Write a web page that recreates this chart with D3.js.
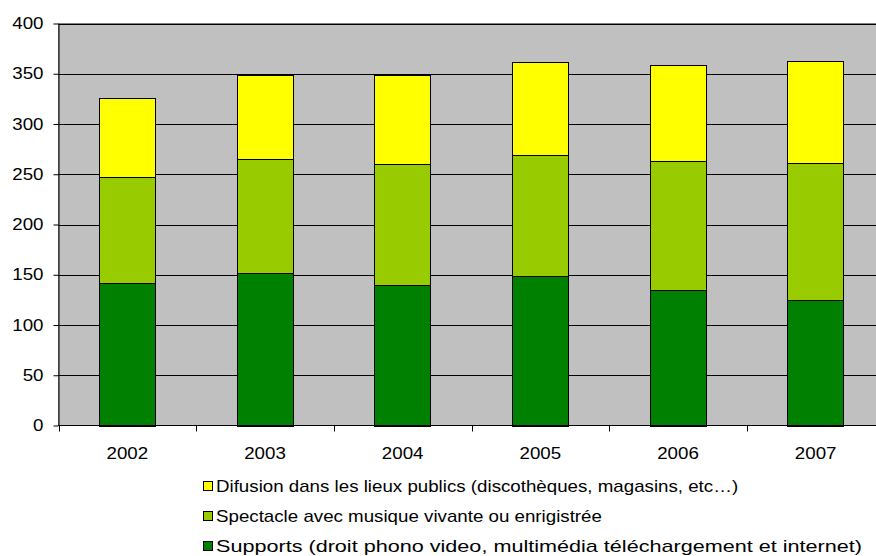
<!DOCTYPE html>
<html>
<head>
<meta charset="utf-8">
<script src="https://cdn.jsdelivr.net/npm/d3@7"></script>
<style>
  html, body { margin: 0; padding: 0; background: #fff; }
  svg { display: block; }
  text { font-family: "Liberation Sans", Arial, sans-serif; fill: #000; }
</style>
</head>
<body>
<svg id="chart" width="876" height="556"></svg>
<script>
// Years on the category axis
const years = ["2002", "2003", "2004", "2005", "2006", "2007"];

// Stacked series, bottom to top
const supports   = [142, 152, 140, 149, 135, 125];
const spectacle  = [105, 113, 120, 120, 128, 136];
const difusion   = [79, 84, 89, 93, 96, 102];

const seriesNames = [
  "Supports (droit phono video, multimédia téléchargement et internet)",
  "Spectacle avec musique vivante ou enrigistrée",
  "Difusion dans les lieux publics (discothèques, magasins, etc…)"
];
const seriesColors = ["#008000", "#99CC00", "#FFFF00"];

const yTicks = [0, 50, 100, 150, 200, 250, 300, 350, 400];

const svg = d3.select("#chart");

const plot = { left: 58.5, right: 884.5, top: 23.5, bottom: 425.5 };
const fontSize = 16;
const stretch = 1.17; // wide glyph setting for all labels

// Places a horizontally widened label at (px, py)
function label(parent, px, py, str, anchor) {
  return parent.append("text")
    .attr("transform", `translate(${px},${py}) scale(${stretch},1)`)
    .attr("text-anchor", anchor)
    .attr("font-size", fontSize)
    .text(str);
}

const x = d3.scaleBand()
  .domain(years)
  .range([plot.left, plot.right])
  .paddingInner(0.59)
  .paddingOuter(0.295);

const xCat = d3.scaleBand().domain(years).range([plot.left, plot.right]);

const y = d3.scaleLinear().domain([0, 400]).range([plot.bottom, plot.top]);

// Plot background
svg.append("rect")
  .attr("x", plot.left).attr("y", plot.top)
  .attr("width", plot.right - plot.left).attr("height", plot.bottom - plot.top)
  .attr("fill", "#C0C0C0")
  .attr("stroke", "#808080").attr("stroke-width", 1);

// Horizontal gridlines
svg.append("g")
  .selectAll("line")
  .data(yTicks.filter(d => d > 0))
  .join("line")
  .attr("x1", plot.left).attr("x2", plot.right)
  .attr("y1", d => Math.round(y(d)) + 0.5).attr("y2", d => Math.round(y(d)) + 0.5)
  .attr("stroke", "#000").attr("stroke-width", 1);

// Stack the series
const rows = years.map((yr, i) => ({ year: yr, s0: supports[i], s1: spectacle[i], s2: difusion[i] }));
const stacked = d3.stack().keys(["s0", "s1", "s2"])(rows);

svg.append("g")
  .selectAll("g")
  .data(stacked)
  .join("g")
  .attr("fill", (d, i) => seriesColors[i])
  .selectAll("rect")
  .data(d => d)
  .join("rect")
  .attr("x", d => Math.round(x(d.data.year)) + 0.5)
  .attr("width", Math.round(x.bandwidth()))
  .attr("y", d => Math.round(y(d[1])) + 0.5)
  .attr("height", d => Math.round(y(d[0])) - Math.round(y(d[1])))
  .attr("stroke", "#000").attr("stroke-width", 1);

// Y axis
const yAxis = d3.axisLeft(y).tickValues(yTicks).tickSize(5).tickFormat("").tickSizeOuter(0);
const gy = svg.append("g").attr("transform", `translate(${plot.left},0)`).call(yAxis);
gy.select(".domain").attr("stroke", "#000");
gy.selectAll(".tick line").attr("stroke", "#000");
yTicks.forEach(v => {
  label(svg, plot.left - 15, y(v) + 5.5, String(v), "end");
});

// X axis: ticks at category boundaries, labels at category centres
const gx = svg.append("g").attr("transform", `translate(0,${plot.bottom})`);
gx.append("line")
  .attr("x1", plot.left).attr("x2", plot.right)
  .attr("stroke", "#000");
const bounds = years.map(d => xCat(d)).concat([plot.right]);
gx.selectAll("line.tk")
  .data(bounds)
  .join("line").attr("class", "tk")
  .attr("x1", d => Math.round(d) + 0.5).attr("x2", d => Math.round(d) + 0.5)
  .attr("y1", 0).attr("y2", 6)
  .attr("stroke", "#000");
years.forEach(yr => {
  label(gx, xCat(yr) + xCat.bandwidth() / 2, 33, yr, "middle");
});

// Legend, top entry is the top of the stack
const legendItems = [2, 1, 0];
const lg = svg.append("g");
legendItems.forEach((si, row) => {
  const cy = 486 + row * 30;
  lg.append("rect")
    .attr("x", 203.5).attr("y", cy - 4.5)
    .attr("width", 9).attr("height", 9)
    .attr("fill", seriesColors[si])
    .attr("stroke", "#000").attr("stroke-width", 1);
  const t = label(lg, 216, cy + 6, seriesNames[si], "start");
  // the long supports entry runs out to the right edge of the legend
  if (si === 0) t.attr("textLength", 646 / stretch).attr("lengthAdjust", "spacingAndGlyphs");
});
</script>
</body>
</html>
